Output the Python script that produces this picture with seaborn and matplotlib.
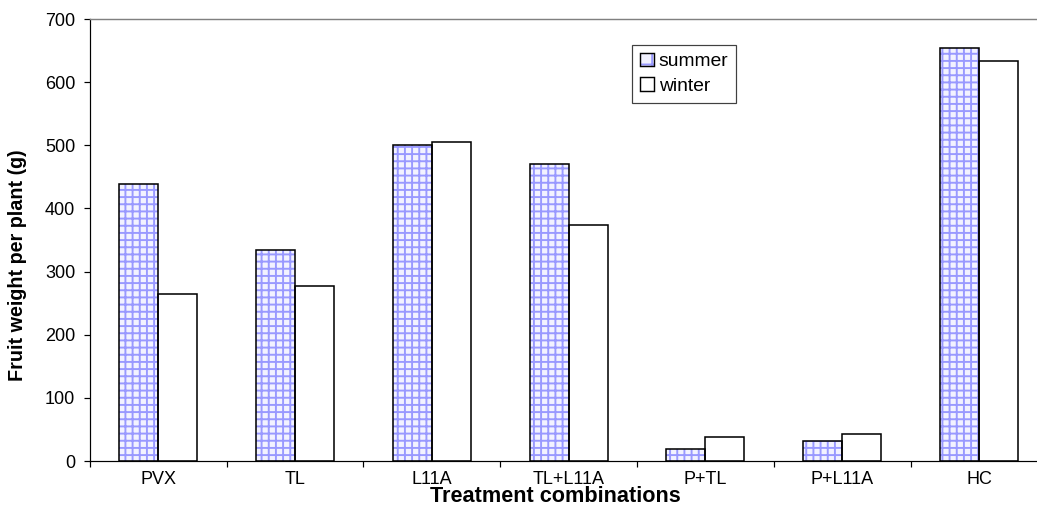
import matplotlib
matplotlib.use("Agg")
import matplotlib.pyplot as plt
from matplotlib.patches import Patch
from matplotlib.legend_handler import HandlerTuple
import seaborn as sns
import pandas as pd

# Fruit weight per plant (g) by treatment and season
treatments = ["PVX", "TL", "L11A", "TL+L11A", "P+TL", "P+L11A", "HC"]
summer = [439, 334, 500, 471, 19, 32, 654]
winter = [265, 277, 505, 374, 38, 42, 634]
seasons = ["summer", "winter"]
y_ticks = [0, 100, 200, 300, 400, 500, 600, 700]

df = pd.DataFrame({
    "treatment": treatments * 2,
    "season": ["summer"] * len(treatments) + ["winter"] * len(treatments),
    "weight": summer + winter,
})

sns.set_theme(style="white")
plt.rcParams["font.family"] = ["Liberation Sans", "DejaVu Sans"]
plt.rcParams["hatch.linewidth"] = 1.6
plt.rcParams["text.color"] = "black"
plt.rcParams["axes.labelcolor"] = "black"

DPI = 86.4
fig = plt.figure(figsize=(1037 / DPI, 524 / DPI), dpi=DPI)
W, H = 1037, 524
# plot area runs slightly past the right edge of the canvas
left, right, top, bottom = 89.7, 1047.5, 19, 461
ax = fig.add_axes([left / W, (H - bottom) / H, (right - left) / W, (bottom - top) / H])

pal = {"summer": "#F2F2FF", "winter": "white"}

# hatched fill layer (grid drawn in lavender)
sns.barplot(data=df, x="treatment", y="weight", hue="season", order=treatments,
            hue_order=seasons, palette=pal, width=0.57, edgecolor="#9999FF",
            linewidth=0, saturation=1, ax=ax, legend=False, errorbar=None)
for bar, hatch in zip(ax.patches, ["++"] * len(treatments) + [""] * len(treatments)):
    bar.set_hatch(hatch)

# outline layer in black
sns.barplot(data=df, x="treatment", y="weight", hue="season", order=treatments,
            hue_order=seasons, fill=False, width=0.57, edgecolor="black",
            linewidth=1.3, ax=ax, legend=False, errorbar=None)

ax.set_xlim(-0.5, len(treatments) - 0.5)
ax.set_ylim(0, 700)
ax.set_yticks(y_ticks)
ax.set_yticklabels([str(v) for v in y_ticks], fontsize=15, color="black")
ax.set_xticks(range(len(treatments)))
ax.set_xticklabels(treatments, fontsize=15, color="black")
ax.set_xticks([i - 0.5 for i in range(len(treatments) + 1)], minor=True)
ax.tick_params(axis="x", which="major", length=0, pad=8)
ax.tick_params(axis="x", which="minor", direction="out", length=5, width=1, color="black", bottom=True)
ax.tick_params(axis="y", direction="out", length=5, width=1, color="black", left=True, pad=7)

for side in ["left", "bottom"]:
    ax.spines[side].set_color("black")
    ax.spines[side].set_linewidth(1.0)
ax.spines["top"].set_color("#808080")
ax.spines["top"].set_linewidth(1.2)
ax.spines["right"].set_visible(False)
ax.grid(False)

ax.set_xlabel("Treatment combinations", fontsize=18, fontweight="bold", color="black")
ax.set_ylabel("Fruit weight per plant (g)", fontsize=16.5, fontweight="bold", color="black")
ax.xaxis.set_label_coords((555 - left) / (right - left), -(497 - bottom) / (bottom - top))
ax.yaxis.set_label_coords(-(left - 18) / (right - left), (bottom - 265) / (bottom - top))
ax.xaxis.label.set_va("center")
ax.yaxis.label.set_va("center")

hatched = Patch(facecolor="#F2F2FF", edgecolor="#9999FF", hatch="+", linewidth=0)
outline = Patch(facecolor="none", edgecolor="black", linewidth=1.2)
plain = Patch(facecolor="white", edgecolor="black", linewidth=1.2)
leg = fig.legend([(hatched, outline), plain], seasons, loc="upper left",
                 handler_map={tuple: HandlerTuple(ndivide=1, pad=0)},
                 bbox_to_anchor=(632 / W, (H - 44.7) / H), fontsize=16,
                 frameon=True, fancybox=False, framealpha=1, borderaxespad=0,
                 handlelength=0.72, handleheight=0.72, handletextpad=0.25,
                 labelspacing=0.35, borderpad=0.42)
leg.get_frame().set_edgecolor("#404040")
leg.get_frame().set_linewidth(1.0)
for t in leg.get_texts():
    t.set_color("black")

fig.savefig("out.png", dpi=DPI, facecolor="white")
